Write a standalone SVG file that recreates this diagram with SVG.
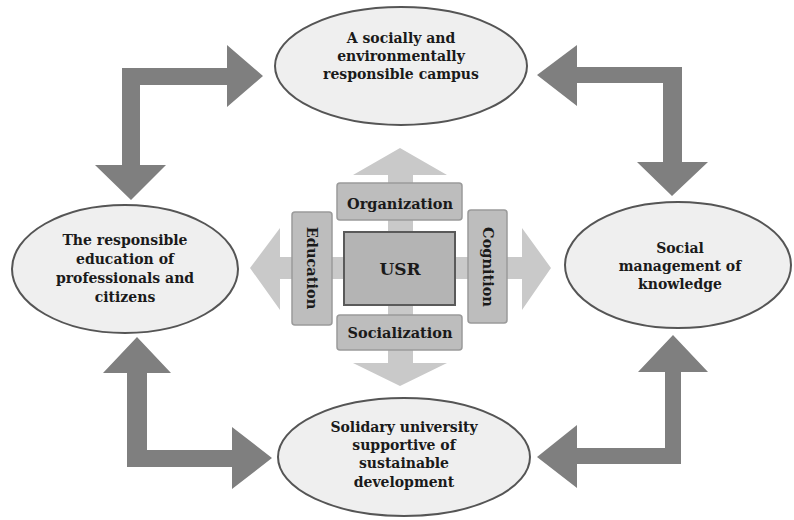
<svg xmlns="http://www.w3.org/2000/svg" width="794" height="520" viewBox="0 0 794 520">
<style>
.dark{fill:#7f7f7f}
.light{fill:#c9c9c9}
.ell{fill:#efefef;stroke:#555;stroke-width:2}
.box{fill:#bdbdbd;stroke:#9a9a9a;stroke-width:1.5}
.usr{fill:#b4b4b4;stroke:#5a5a5a;stroke-width:2}
text{font-family:'DejaVu Serif','Liberation Serif',serif;font-weight:bold;fill:#1a1a1a;text-anchor:middle}
.t{font-size:14px}
.c{font-size:14.5px}
</style>
<rect width="794" height="520" fill="#fff"/>
<g id="connectors">
<polygon class="light" points="400,148 447,175 413,175 413,257 522,257 522,228 551,268 522,310 522,279 413,279 413,363 447,363 400,386 353,363 388,363 388,279 280,279 280,310 250,268 280,228 280,257 388,257 388,175 353,175"/>
<polygon class="dark" points="263,76 227,45 227,68 122,68 122,165 95,165 131,200 166,165 140,165 140,85 227,85 227,107"/>
<polygon class="dark" points="537,75 577,45 577,67 682,67 682,162 708,162 672,196 637,162 663,162 663,83 577,83 577,106"/>
<polygon class="dark" points="137,337 171,373 147,373 147,450 232,450 232,427 272,458 232,489 232,467 127,467 127,373 103,373"/>
<polygon class="dark" points="537,457 577,425 577,448 665,448 665,372 638,372 673,335 708,372 681,372 681,464 577,464 577,488"/>
</g>
<g id="campus">
<ellipse class="ell" cx="401" cy="66" rx="126" ry="59"/>
<text class="t" x="401" y="43">A socially and</text>
<text class="t" x="401" y="61">environmentally</text>
<text class="t" x="401" y="79">responsible campus</text>
</g>
<g id="education-node">
<ellipse class="ell" cx="125" cy="269" rx="113" ry="64"/>
<text class="t" x="125" y="245">The responsible</text>
<text class="t" x="125" y="264">education of</text>
<text class="t" x="125" y="283">professionals and</text>
<text class="t" x="125" y="302">citizens</text>
</g>
<g id="knowledge">
<ellipse class="ell" cx="678" cy="265" rx="113" ry="63"/>
<text class="t" x="680" y="253">Social</text>
<text class="t" x="680" y="271">management of</text>
<text class="t" x="680" y="289">knowledge</text>
</g>
<g id="solidary">
<ellipse class="ell" cx="404" cy="457" rx="126" ry="59"/>
<text class="t" x="404" y="432">Solidary university</text>
<text class="t" x="404" y="450">supportive of</text>
<text class="t" x="404" y="468">sustainable</text>
<text class="t" x="404" y="487">development</text>
</g>
<g id="organization">
<rect class="box" x="337" y="183" width="125" height="37" rx="3"/>
<text class="c" x="400" y="209">Organization</text>
</g>
<g id="socialization">
<rect class="box" x="337" y="315" width="125" height="35" rx="3"/>
<text class="c" x="400" y="338">Socialization</text>
</g>
<g id="education">
<rect class="box" x="292" y="212" width="40" height="113" rx="3"/>
<text class="c" transform="translate(312,268) rotate(90)" x="0" y="5">Education</text>
</g>
<g id="cognition">
<rect class="box" x="468" y="210" width="39" height="113" rx="3"/>
<text class="c" transform="translate(488,267) rotate(90)" x="0" y="5">Cognition</text>
</g>
<g id="usr">
<rect class="usr" x="344" y="232" width="111" height="73"/>
<text x="400" y="275" style="font-size:17px">USR</text>
</g>
</svg>
